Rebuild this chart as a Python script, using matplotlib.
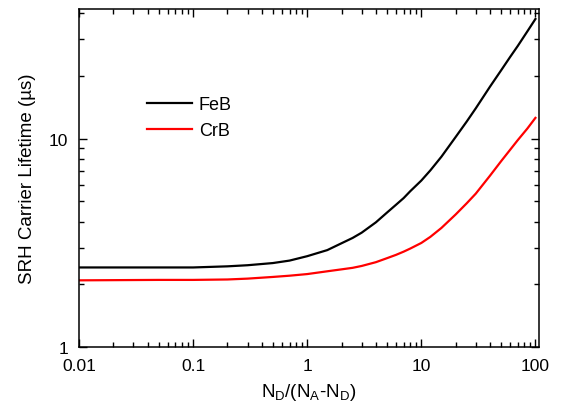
import matplotlib
matplotlib.use("Agg")
import matplotlib.pyplot as plt
from matplotlib.ticker import LogLocator, NullFormatter, FixedLocator, FixedFormatter

plt.rcParams['font.family'] = ['Liberation Sans', 'DejaVu Sans']
plt.rcParams['mathtext.fontset'] = 'custom'
plt.rcParams['mathtext.rm'] = 'Liberation Sans'
plt.rcParams['mathtext.it'] = 'Liberation Sans'
plt.rcParams['mathtext.default'] = 'regular'

# Doping ratio N_D/(N_A-N_D)
ratio = [0.01, 0.05, 0.1, 0.2, 0.3, 0.5, 0.7, 1, 1.5, 2, 2.5, 3, 4, 5, 6, 7, 8, 10,
         12, 15, 20, 25, 30, 40, 50, 60, 70, 85, 100]
# SRH lifetimes in microseconds
tau_feb = [2.41, 2.41, 2.41, 2.44, 2.47, 2.53, 2.60, 2.73, 2.92, 3.15, 3.34, 3.54, 3.97,
           4.42, 4.82, 5.19, 5.6, 6.3, 7.05, 8.2, 10.2, 12.1, 14.0, 17.8, 21.3, 24.7,
           27.9, 32.8, 37.6]
tau_crb = [2.09, 2.10, 2.10, 2.11, 2.13, 2.17, 2.20, 2.24, 2.31, 2.36, 2.40, 2.45, 2.555,
           2.67, 2.77, 2.87, 2.97, 3.16, 3.38, 3.73, 4.33, 4.9, 5.45, 6.65, 7.8, 8.85,
           9.85, 11.2, 12.6]

x_ticks = [0.01, 0.1, 1, 10, 100]
x_labels = ["0.01", "0.1", "1", "10", "100"]
y_ticks = [1, 10]
y_labels = ["1", "10"]

fig = plt.figure(figsize=(5.61, 4.10), dpi=100)
ax = fig.add_axes([79/561, 1 - 348/410, 460/561, 338/410])

ax.plot(ratio, tau_feb, color='black', lw=1.6, label='FeB')
ax.plot(ratio, tau_crb, color='red', lw=1.6, label='CrB')

ax.set_xscale('log')
ax.set_yscale('log')
ax.set_xlim(0.01, 107.5)
ax.set_ylim(1, 42)

ax.xaxis.set_major_locator(FixedLocator(x_ticks))
ax.xaxis.set_major_formatter(FixedFormatter(x_labels))
ax.yaxis.set_major_locator(FixedLocator(y_ticks))
ax.yaxis.set_major_formatter(FixedFormatter(y_labels))
for axis in (ax.xaxis, ax.yaxis):
    axis.set_minor_locator(LogLocator(base=10, subs=range(2, 10), numticks=20))
    axis.set_minor_formatter(NullFormatter())

ax.tick_params(which='both', direction='in', top=True, right=True, width=1.0, labelsize=12.5)
ax.tick_params(which='major', length=6)
ax.tick_params(axis='x', which='major', pad=8)
ax.tick_params(axis='y', which='major', pad=8)
ax.tick_params(which='minor', length=3.5)
for s in ax.spines.values():
    s.set_linewidth(1.1)

ax.set_ylabel('SRH Carrier Lifetime (µs)', fontsize=13.5, labelpad=9)
ax.set_xlabel('N$_D$/(N$_A$-N$_D$)', fontsize=13.5, labelpad=6)

ax.legend(loc='upper left', bbox_to_anchor=(0.147, 0.742), frameon=False, fontsize=13,
          handlelength=2.5, handletextpad=0.4, labelspacing=0.5, borderpad=0, borderaxespad=0)

fig.savefig('out.png', dpi=100)
